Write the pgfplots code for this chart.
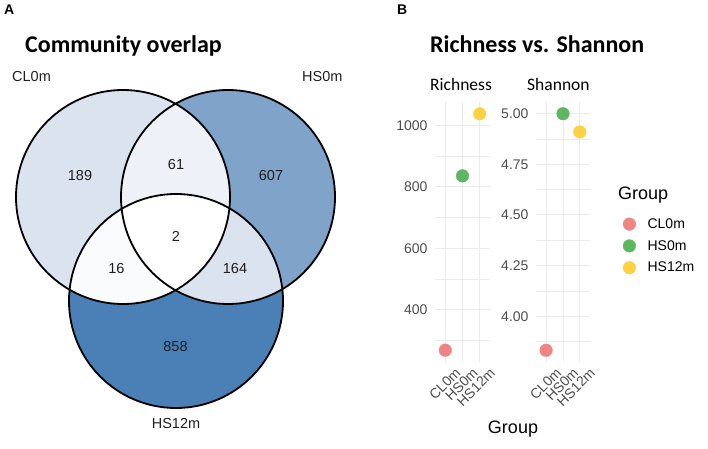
\documentclass[border=0pt]{standalone}
\usepackage{fontspec}
\setmainfont{Liberation Sans}
\newfontfamily\calibri{Carlito}
\usepackage{pgfplots}
\usepackage{pgfplotstable}
\pgfplotsset{compat=1.18}

\newcommand\fs[1]{\fontsize{#1}{#1}\selectfont}

\definecolor{vennA}{HTML}{DBE3EF}
\definecolor{vennB}{HTML}{7FA3C9}
\definecolor{vennC}{HTML}{4A80B5}
\definecolor{vennAB}{HTML}{EEF2F8}
\definecolor{vennAC}{HTML}{FAFBFD}
\definecolor{vennBC}{HTML}{DBE3EF}
\definecolor{gridgrey}{HTML}{EBEBEB}
\definecolor{ticktext}{HTML}{4D4D4D}
\definecolor{grpCL}{HTML}{F08484}
\definecolor{grpHS0}{HTML}{5DB761}
\definecolor{grpHS12}{HTML}{FDD13F}

% alpha diversity per group
\pgfplotstableread{
x y grp
0 268 CL
1 836 HS0
2 1038 HS12
}\richness
\pgfplotstableread{
x y grp
0 3.832 CL
1 5.00 HS0
2 4.91 HS12
}\shannon

\pgfplotsset{
  panel/.style={
    scale only axis, height=260pt,
    xmin=-0.6, xmax=2.6,
    xtick={0,1,2}, xticklabels={CL0m,HS0m,HS12m},
    grid=both,
    major grid style={gridgrey, line width=1pt},
    minor grid style={gridgrey, line width=0.6pt},
    axis line style={draw=none},
    major tick length=0pt, minor tick length=0pt,
    tick style={draw=none},
    ticklabel style={ticktext, font=\fs{14}},
    /pgf/number format/assume math mode=true,
    xticklabel style={rotate=45, anchor=north east, inner sep=0pt, xshift=3pt, yshift=-10pt},
    yticklabel style={xshift=-4pt},
    clip=false,
  },
  grpdots/.style={
    scatter, only marks, mark=*, mark size=6.3pt,
    scatter src=explicit symbolic,
    scatter/classes={CL={grpCL}, HS0={grpHS0}, HS12={grpHS12}},
  },
}

\begin{document}
\begin{tikzpicture}
\useasboundingbox (0,0) rectangle (708pt,448pt);

% canvas axis: Venn diagram, titles and legend (1 unit = 1pt)
\begin{axis}[at={(0,0)}, anchor=south west, width=708pt, height=448pt,
  scale only axis, xmin=0, xmax=708, ymin=0, ymax=448, hide axis, clip=false,
  legend style={at={(0.8785,0.5172)}, anchor=north west, draw=none, fill=none,
    font=\fs{14}, row sep=6.5pt, inner sep=0pt},
  legend cell align=left,
  legend image code/.code={\draw[#1] plot coordinates {(0pt,0pt)}; \path (-7pt,0pt) (16pt,0pt);},
]
\fill[vennA] (axis cs:123,251) circle[radius=107pt];
\fill[vennB] (axis cs:228,251) circle[radius=107pt];
\fill[vennC] (axis cs:176,147) circle[radius=107pt];
\begin{scope}
  \clip (axis cs:123,251) circle[radius=107pt];
  \fill[vennAB] (axis cs:228,251) circle[radius=107pt];
  \fill[vennAC] (axis cs:176,147) circle[radius=107pt];
\end{scope}
\begin{scope}
  \clip (axis cs:228,251) circle[radius=107pt];
  \fill[vennBC] (axis cs:176,147) circle[radius=107pt];
\end{scope}
\begin{scope}
  \clip (axis cs:123,251) circle[radius=107pt];
  \clip (axis cs:228,251) circle[radius=107pt];
  \fill[white] (axis cs:176,147) circle[radius=107pt];
\end{scope}
\draw[line width=1.8pt] (axis cs:123,251) circle[radius=107pt];
\draw[line width=1.8pt] (axis cs:228,251) circle[radius=107pt];
\draw[line width=1.8pt] (axis cs:176,147) circle[radius=107pt];

% region counts
\begin{scope}[every node/.style={font=\fs{14.5}, text=black!88, inner sep=0pt}]
\node at (axis cs:80,272) {189};
\node at (axis cs:176,283) {61};
\node at (axis cs:271,272) {607};
\node at (axis cs:176,212) {2};
\node at (axis cs:116.5,179) {16};
\node at (axis cs:235,179) {164};
\node at (axis cs:175.5,101) {858};
\node[anchor=base west] at (axis cs:12,366) {CL0m};
\node[anchor=base west] at (axis cs:302,366) {HS0m};
\node[anchor=base] at (axis cs:176,20) {HS12m};
\end{scope}

% panel letters and titles
\node[anchor=base west, inner sep=0pt, font=\fs{14}\bfseries] at (axis cs:4,433) {A};
\node[anchor=base west, inner sep=0pt, font=\fs{14}\bfseries] at (axis cs:397,433) {B};
\node[anchor=base west, inner sep=0pt, font=\calibri\fs{24}\bfseries] at (axis cs:25,395) {Community overlap};
\node[anchor=base west, inner sep=0pt, font=\calibri\fs{24}\bfseries] at (axis cs:430,395) {Richness vs. Shannon};
\node[anchor=base west, inner sep=0pt, font=\calibri\fs{17.5}] at (axis cs:430,357) {Richness};
\node[anchor=base west, inner sep=0pt, font=\calibri\fs{17.5}] at (axis cs:527,357) {Shannon};
\node[anchor=base, inner sep=0pt, font=\fs{18}] at (axis cs:513,15) {Group};
\node[anchor=base west, inner sep=0pt, font=\fs{18}] at (axis cs:618,249) {Group};

\addlegendimage{only marks, mark=*, mark size=6.3pt, grpCL}
\addlegendentry{CL0m}
\addlegendimage{only marks, mark=*, mark size=6.3pt, grpHS0}
\addlegendentry{HS0m}
\addlegendimage{only marks, mark=*, mark size=6.3pt, grpHS12}
\addlegendentry{HS12m}
\end{axis}

% Richness panel
\begin{axis}[panel, at={(435pt,86pt)}, anchor=south west, width=55pt,
  ymin=229.5, ymax=1076.5,
  ytick={400,600,800,1000}, yticklabels={400,600,800,1000},
  minor ytick={300,500,700,900}]
\addplot[grpdots] table[x=x, y=y, meta=grp] {\richness};
\end{axis}

% Shannon panel
\begin{axis}[panel, at={(536pt,86pt)}, anchor=south west, width=54pt,
  ymin=3.774, ymax=5.058,
  ytick={4,4.25,4.5,4.75,5}, yticklabels={4.00,4.25,4.50,4.75,5.00},
  minor ytick={3.875,4.125,4.375,4.625,4.875}]
\addplot[grpdots] table[x=x, y=y, meta=grp] {\shannon};
\end{axis}
\end{tikzpicture}
\end{document}
